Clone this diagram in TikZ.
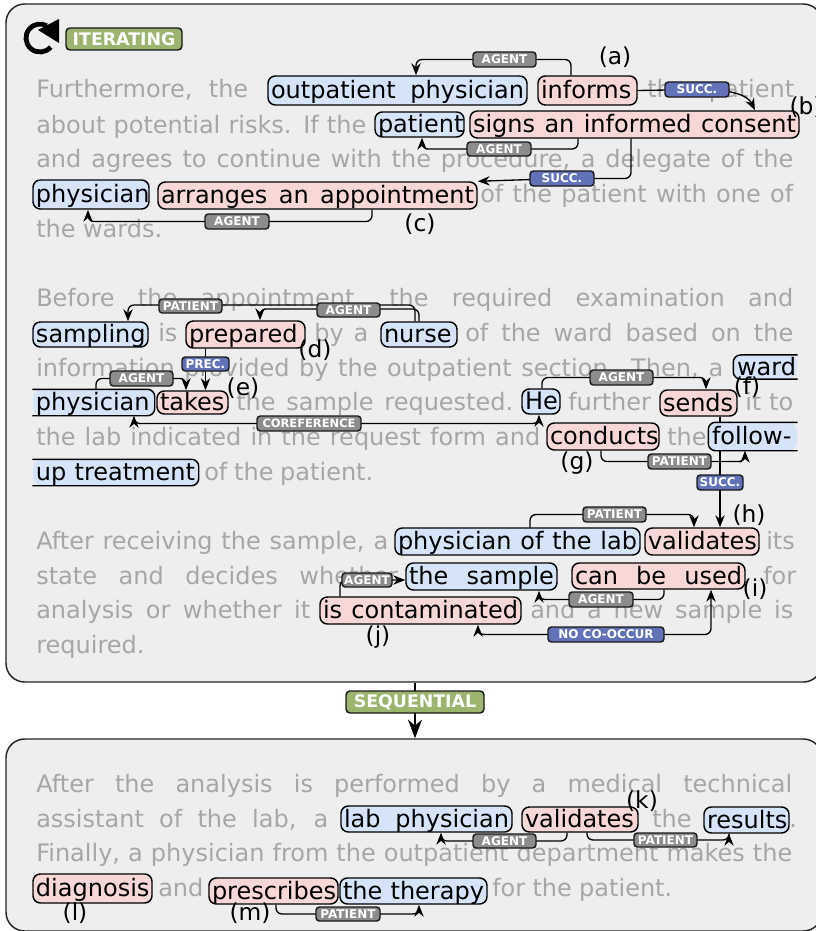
\documentclass[tikz,border=0pt]{standalone}
\usepackage{fontspec}
\setmainfont{DejaVu Sans}
\usetikzlibrary{arrows.meta,calc}
\pgfdeclarelayer{back}
\pgfdeclarelayer{wires}
\pgfsetlayers{back,wires,main}
\definecolor{grayt}{HTML}{A6A6A6}
\definecolor{panelc}{HTML}{EEEEEE}
\definecolor{entb}{HTML}{D6E4FA}
\definecolor{entr}{HTML}{F8D7D7}
\definecolor{lblg}{HTML}{8C8C8C}
\definecolor{lblb}{HTML}{6272B8}
\definecolor{lblv}{HTML}{9BB56E}
\tikzset{
  panel/.style={draw=black!85,line width=1.1pt,fill=panelc,rounded corners=14pt,inner sep=0pt},
  graytext/.style={anchor=base west,inner sep=0pt,text=grayt,font=\fontsize{18}{20}\selectfont},
  ent/.style={rounded corners=5.5pt,line width=1.1pt,inner sep=0pt,text=black,font=\fontsize{18}{20}\selectfont,text height=14.6pt,text depth=2.4pt},
  entbox/.style={ent,draw=black},
  tag/.style={draw=black!90,line width=1.1pt,rounded corners=2.5pt,inner sep=0pt,text=white,font=\fontsize{9}{10}\selectfont\bfseries},
  bigtag/.style={tag,fill=lblv,rounded corners=3pt,font=\fontsize{13}{15}\selectfont\bfseries},
  wire/.style={draw=black,line width=1pt,rounded corners=4.5pt,>={Stealth[length=9pt,width=7pt]},->},
  bothwire/.style={wire,<->},
  lettermark/.style={inner sep=0pt,text=black,font=\fontsize{17.5}{19}\selectfont}
}
% gray text: name, x1, x2, baseline, text
\newcommand{\gtx}[5]{\node[graytext] (#1) at (#2,#4) {\hbox to \dimexpr(#3pt-#2pt)*3/4\relax{#5}};}
% entity: name, style, colour, x1, x2, y1, y2, text
\newcommand{\entn}[8]{\node[#2,fill=#3,minimum width={(#5-#4)*0.75pt},minimum height={(#7-#6)*0.75pt}] (#1) at ({(#4+#5)/2},{(#6+#7)/2}) {\hbox to \dimexpr(#5pt-#4pt-4pt)*3/4\relax{\hss\hbox to \dimexpr(#5pt-#4pt-6pt)*3/4\relax{#8}\hss}};}
% tag: name, colour, x1, x2, y1, y2, text
\newcommand{\tagn}[7]{\node[tag,fill=#2,minimum width={(#4-#3)*0.75pt},minimum height={(#6-#5)*0.75pt}] (#1) at ({(#3+#4)/2},{(#5+#6)/2}) {#7};}
\begin{document}
\begin{tikzpicture}[x=0.75pt,y=-0.75pt]
\useasboundingbox (0,0) rectangle (816,931);
\begin{pgfonlayer}{back}
\node[panel,minimum width=0.75pt*816,minimum height=0.75pt*678] (p1) at (414,343) {};
\node[panel,minimum width=0.75pt*816,minimum height=0.75pt*192] (p2) at (414,835) {};
\gtx{g1}{36}{248}{98}{Furthermore, the}
\gtx{g2}{647}{794}{98}{the patient}
\gtx{g3}{36}{366}{133}{about potential risks. If the}
\gtx{g4}{36}{793}{167}{and agrees to continue with the procedure, a delegate of the}
\gtx{g5}{480}{793}{202}{of the patient with one of}
\gtx{g6}{36}{162}{237}{the wards.}
\gtx{g7}{36}{793}{306}{Before the appointment, the required examination and}
\gtx{g8}{158}{180}{341}{is}
\gtx{g9}{314}{368}{341}{by a}
\gtx{g10}{465}{793}{341}{of the ward based on the}
\gtx{g11}{36}{723}{376}{information provided by the outpatient section. Then, a}
\gtx{g12}{236}{513}{410}{the sample requested.}
\gtx{g13}{568}{650}{410}{further}
\gtx{g14}{745}{793}{410}{it to}
\gtx{g15}{36}{540}{445}{the lab indicated in the request form and}
\gtx{g16}{667}{702}{445}{the}
\gtx{g17}{204}{373}{480}{of the patient.}
\gtx{g18}{36}{388}{549}{After receiving the sample, a}
\gtx{g19}{766}{793}{549}{its}
\gtx{g20}{36}{398}{584}{state and decides whether}
\gtx{g21}{763}{793}{584}{for}
\gtx{g22}{36}{310}{618}{analysis or whether it}
\gtx{g23}{530}{793}{618}{and a new sample is}
\gtx{g24}{36}{143}{653}{required.}
\gtx{g25}{36}{792}{792}{After the analysis is performed by a medical technical}
\gtx{g26}{36}{328}{827}{assistant of the lab, a}
\gtx{g27}{652}{690}{827}{the}
\gtx{g28}{789}{794}{827}{.}
\gtx{g29}{36}{792}{861}{Finally, a physician from the outpatient department makes the}
\gtx{g30}{158}{200}{896}{and}
\gtx{g31}{492}{672}{896}{for the patient.}
\end{pgfonlayer}
% entities
\entn{e1}{entbox}{entb}{268}{527}{76}{105}{outpatient physician}
\entn{e2}{entbox}{entr}{538}{637}{76}{105}{informs}
\entn{e3}{entbox}{entb}{375}{464}{112}{137}{patient}
\entn{e4}{entbox}{entr}{470}{799}{111}{138}{signs an informed consent}
\entn{e5}{entbox}{entb}{33}{149}{180}{209}{physician}
\entn{e6}{entbox}{entr}{158}{477}{182}{209}{arranges an appointment}
\entn{e7}{entbox}{entb}{33}{148}{322}{347}{sampling}
\entn{e8}{entbox}{entr}{186}{305}{321}{348}{prepared}
\entn{e9}{entbox}{entb}{381}{457}{322}{347}{nurse}
\entn{e10}{ent}{entb}{734}{797}{356}{378}{ward}
\draw[line width=1.1pt,rounded corners=5.5pt] (e10.north east) -- (e10.north west) -- (e10.south west) -- (e10.south east);
\entn{e11}{ent}{entb}{33}{154}{390}{415}{physician}
\draw[line width=1.1pt,rounded corners=5.5pt] (e11.north west) -- (e11.north east) -- (e11.south east) -- (e11.south west);
\entn{e12}{entbox}{entr}{157}{228}{391}{414}{takes}
\entn{e13}{entbox}{entb}{522}{560}{389}{414}{He}
\entn{e14}{entbox}{entr}{660}{737}{390}{416}{sends}
\entn{e15}{entbox}{entr}{547}{659}{423}{450}{conducts}
\entn{e16}{ent}{entb}{709}{797}{423}{450}{follow-}
\draw[line width=1.1pt,rounded corners=5.5pt] (e16.north east) -- (e16.north west) -- (e16.south west) -- (e16.south east);
\entn{e17}{ent}{entb}{33}{198}{460}{485}{up treatment}
\draw[line width=1.1pt,rounded corners=5.5pt] (e17.north west) -- (e17.north east) -- (e17.south east) -- (e17.south west);
\entn{e18}{entbox}{entb}{395}{640}{528}{555}{physician of the lab}
\entn{e19}{entbox}{entr}{645}{759}{528}{555}{validates}
\entn{e20}{entbox}{entb}{406}{557}{563}{590}{the sample}
\entn{e21}{entbox}{entr}{572}{745}{563}{589}{can be used}
\entn{e22}{entbox}{entr}{320}{521}{597}{624}{is contaminated}
\entn{e23}{entbox}{entb}{341}{512}{806}{832}{lab physician}
\entn{e24}{entbox}{entr}{522}{638}{807}{832}{validates}
\entn{e25}{entbox}{entb}{704}{789}{807}{833}{results}
\entn{e26}{entbox}{entr}{33}{152}{874}{903}{diagnosis}
\entn{e27}{entbox}{entr}{209}{338}{878}{904}{prescribes}
\entn{e28}{entbox}{entb}{340}{487}{878}{904}{the therapy}
% tags
\tagn{t1}{lblg}{473}{536}{52}{67}{AGENT}
\tagn{t2}{lblb}{665}{729}{82}{97}{SUCC.}
\tagn{t3}{lblg}{467}{531}{142}{156}{AGENT}
\tagn{t4}{lblb}{530}{594}{171}{186}{SUCC.}
\tagn{t5}{lblg}{205}{269}{214}{229}{AGENT}
\tagn{t6}{lblg}{159}{222}{299}{313}{PATIENT}
\tagn{t7}{lblg}{317}{380}{303}{317}{AGENT}
\tagn{t8}{lblb}{182}{229}{357}{371}{PREC.}
\tagn{t9}{lblg}{110}{173}{371}{386}{AGENT}
\tagn{t10}{lblg}{590}{653}{370}{385}{AGENT}
\tagn{t11}{lblg}{257}{361}{416}{431}{\fontsize{8.6}{10}\selectfont COREFERENCE}
\tagn{t12}{lblg}{648}{711}{454}{469}{PATIENT}
\tagn{t13}{lblb}{697}{743}{475}{490}{SUCC.}
\tagn{t14}{lblg}{583}{646}{507}{522}{PATIENT}
\tagn{t15}{lblg}{342}{392}{573}{587}{AGENT}
\tagn{t16}{lblg}{569}{633}{592}{607}{AGENT}
\tagn{t17}{lblb}{548}{664}{627}{642}{NO CO-OCCUR}
\tagn{t18}{lblg}{473}{536}{834}{848}{AGENT}
\tagn{t19}{lblg}{634}{697}{833}{847}{PATIENT}
\tagn{t20}{lblg}{316}{380}{907}{921}{PATIENT}
% big tags
\node[bigtag,minimum width=0.75pt*116,minimum height=0.75pt*22] (iter) at (124,39) {ITERATING};
\node[bigtag,minimum width=0.75pt*138,minimum height=0.75pt*22] (seq) at (415,702) {SEQUENTIAL};
% icon
\draw[line width=3.6pt] (40,38) ++(40:14) arc[start angle=40,end angle=300,radius=14];
\fill (59,19) -- (59,43) -- (38,30) -- cycle;
% connectors
\begin{pgfonlayer}{wires}
\draw[wire] (e2.north -| 571,0) |- (t1.center) -| (e1.north -| 416,0);
\draw[wire] (e2.east) -- (t2.center) -- ++(12,0) .. controls (744,92) and (750,100) .. (e4.north -| 755,0);
\draw[wire] (e4.south -| 578,0) |- (t3.center) -| (e3.south -| 422,0);
\draw[wire] (e4.south -| 631,0) |- (t4.center) -- (e6.north east);
\draw[wire] (e6.south -| 372,0) |- (t5.center) -| (e5.south -| 88,0);
\draw[wire] (e9.north -| 415,0) |- (t6.center |- 0,305) -| (e7.north -| 128,0);
\draw[wire] (e9.north -| 419,0) |- (t7.center |- 0,309) -| (e8.north -| 260,0);
\draw[wire] (e8.south -| t8.center) -- (e12.north -| t8.center);
\draw[wire] (e11.north -| 96,0) |- (t9.center) -| (e12.north -| 186,0);
\draw[wire] (e13.north -| 542,0) |- (t10.center) -| (e14.north -| 706,0);
\draw[bothwire] (e13.south -| 539,0) |- (t11.center) -| (e11.south -| 134,0);
\draw[wire] (e15.south -| 601,0) |- (t12.center) -| (e16.south -| 745,0);
\draw[wire] (e14.south -| t13.center) -- (e19.north -| t13.center);
\draw[wire] (e18.north -| 530,0) |- (t14.center) -| (e19.north -| 694,0);
\draw[wire] (e22.north -| 340,0) |- (t15.center) -- (e20.west |- t15.center);
\draw[wire] (e21.south -| 664,0) |- (t16.center) -| (e20.south -| 539,0);
\draw[bothwire] (e22.south -| 478,0) |- (t17.center) -| (e21.south -| 711,0);
\draw[wire] (e24.south -| 567,0) |- (t18.center) -| (e23.south -| 441,0);
\draw[wire] (e24.south -| 587,0) |- (t19.center) -| (e25.south -| 729,0);
\draw[wire] (e27.south -| 276,0) |- (t20.center) -| (e28.south -| 419,0);
\draw[line width=1.2pt,-{Stealth[length=14pt,width=10.5pt]}] (seq.center |- p1.south) -- (seq.center |- p2.north);
\end{pgfonlayer}
% letters
\node[lettermark] (a) at (615,57) {(a)};
\node[lettermark] (b) at (806,107) {(b)};
\node[lettermark] (c) at (420,224) {(c)};
\node[lettermark] (d) at (315,350) {(d)};
\node[lettermark] (e) at (243,388) {(e)};
\node[lettermark] (f) at (747,387) {(f)};
\node[lettermark] (g) at (577,463) {(g)};
\node[lettermark] (h) at (749,515) {(h)};
\node[lettermark] (i) at (755,589) {(i)};
\node[lettermark] (j) at (378,637) {(j)};
\node[lettermark] (k) at (642,801) {(k)};
\node[lettermark] (l) at (75,913) {(l)};
\node[lettermark] (m) at (250,913) {(m)};
\end{tikzpicture}
\end{document}
